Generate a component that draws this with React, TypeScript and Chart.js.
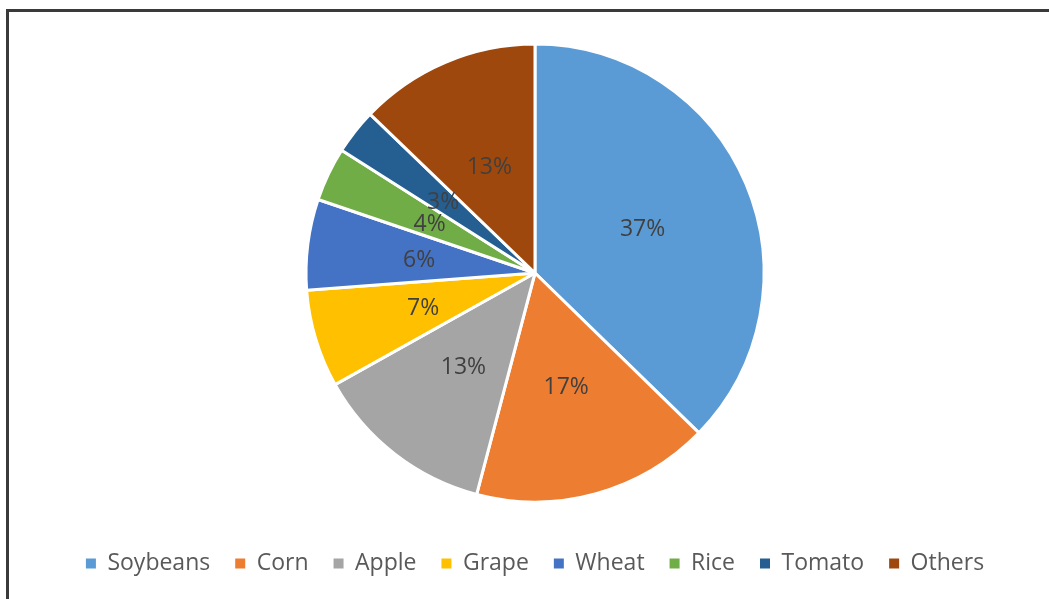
import React, { useEffect, useRef } from "react";
import { Chart, registerables } from "chart.js";

Chart.register(...registerables);

const categories = ["Soybeans", "Corn", "Apple", "Grape", "Wheat", "Rice", "Tomato", "Others"];
const shares = [37.3, 16.8, 12.8, 6.9, 6.4, 3.8, 3.2, 12.8];
const sliceLabels = ["37%", "17%", "13%", "7%", "6%", "4%", "3%", "13%"];
const colors = ["#5B9BD5", "#ED7D31", "#A5A5A5", "#FFC000", "#4472C4", "#70AD47", "#255E91", "#9E480E"];

const FONT = "'Open Sans', 'Liberation Sans', sans-serif";

const labelPlugin = {
  id: "sliceLabels",
  afterDatasetsDraw(chart: any) {
    const ctx = chart.ctx;
    const meta = chart.getDatasetMeta(0);
    ctx.save();
    ctx.font = `23px ${FONT}`;
    ctx.fillStyle = "#404040";
    ctx.textAlign = "center";
    ctx.textBaseline = "middle";
    meta.data.forEach((arc: any, i: number) => {
      const p = arc.getProps(["x", "y", "startAngle", "endAngle", "outerRadius"], true);
      const mid = (p.startAngle + p.endAngle) / 2;
      const r = p.outerRadius * 0.51;
      ctx.fillText(sliceLabels[i], p.x + Math.cos(mid) * r, p.y + Math.sin(mid) * r + 2);
    });
    ctx.restore();
  },
};

export default function App() {
  const ref = useRef<HTMLCanvasElement>(null);
  useEffect(() => {
    document.body.style.margin = "0";
    const chart = new Chart(ref.current!, {
      type: "pie",
      data: {
        labels: categories,
        datasets: [
          {
            data: shares,
            backgroundColor: colors,
            borderColor: "#FFFFFF",
            borderWidth: 3,
          },
        ],
      },
      options: {
        animation: false,
        responsive: false,
        radius: 229,
        layout: { padding: { left: 21, right: 0, top: 19, bottom: 14 } },
        plugins: {
          tooltip: { enabled: false },
          legend: {
            position: "bottom",
            labels: {
              boxWidth: 10,
              boxHeight: 10,
              padding: 25,
              color: "#595959",
              font: { family: FONT, size: 23 },
              generateLabels: (c: any) =>
                categories.map((name, i) => ({
                  text: name,
                  fillStyle: colors[i],
                  strokeStyle: colors[i],
                  lineWidth: 0,
                  hidden: false,
                  index: i,
                  fontColor: "#595959",
                })),
            },
          },
        },
      } as any,
      plugins: [labelPlugin],
    });
    return () => chart.destroy();
  }, []);
  return (
    <div style={{ position: "relative", width: 1049, height: 599, overflow: "hidden", background: "#fff" }}>
      <div
        style={{
          position: "absolute",
          left: 6,
          top: 9,
          width: 1200,
          height: 800,
          borderTop: "3px solid #3a3a3a",
          borderLeft: "3px solid #3a3a3a",
          boxSizing: "border-box",
        }}
      />
      <canvas ref={ref} width={1049} height={599} style={{ position: "absolute", left: 0, top: 0 }} />
    </div>
  );
}
